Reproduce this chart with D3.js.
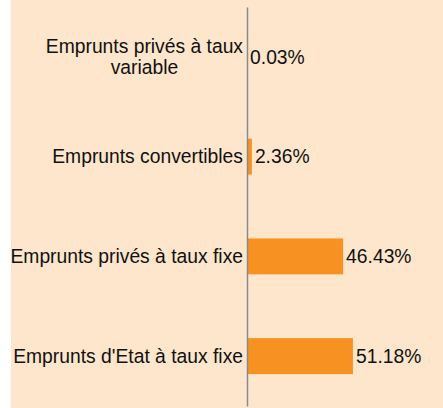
<!DOCTYPE html>
<html>
<head>
<meta charset="utf-8">
<script src="https://cdn.jsdelivr.net/npm/d3@7"></script>
<style>
  html, body { margin: 0; padding: 0; background: #ffffff; }
  svg { display: block; }
</style>
</head>
<body>
<div id="chart"></div>
<script>
const categories = [
  'Emprunts privés à taux variable',
  'Emprunts convertibles',
  'Emprunts privés à taux fixe',
  "Emprunts d'Etat à taux fixe"
];
const shares = [0.03, 2.36, 46.43, 51.18];

document.addEventListener('DOMContentLoaded', () => {
  const width = 443;
  const height = 408;
  const axisX = 247;
  const fontSize = 19.3;

  const svg = d3.select('#chart')
                .append('svg')
                .attr('width', width)
                .attr('height', height)
                .style('font-family', '"Liberation Sans", Arial, sans-serif');

  // peach plot area, white strip on the left
  svg.append('rect')
     .attr('x', 11)
     .attr('y', 0)
     .attr('width', width - 11)
     .attr('height', height)
     .attr('fill', '#fde6cb');

  const xScale = d3.scaleLinear()
                   .domain([0, 100])
                   .range([axisX, axisX + 207]);

  const yScale = d3.scaleBand()
                   .domain(categories)
                   .range([7, 406])
                   .paddingInner(0.64)
                   .paddingOuter(0.32);

  svg.selectAll('.bar')
     .data(categories)
     .enter()
     .append('rect')
     .attr('class', 'bar')
     .attr('x', xScale(0))
     .attr('y', (d) => yScale(d))
     .attr('width', (d, i) => Math.max(xScale(shares[i]) - xScale(0), 0.6))
     .attr('height', yScale.bandwidth())
     .attr('fill', '#f79121');

  // value labels
  svg.selectAll('.value')
     .data(categories)
     .enter()
     .append('text')
     .attr('class', 'value')
     .attr('x', (d, i) => xScale(shares[i]) + 3)
     .attr('y', (d) => yScale(d) + yScale.bandwidth() / 2)
     .attr('dy', '0.35em')
     .attr('font-size', fontSize)
     .attr('fill', '#111')
     .text((d, i) => shares[i].toFixed(2) + '%');

  // category labels, wrapped when too long, lines centred on the first line
  const maxWidth = 236;
  categories.forEach((name) => {
    const cy = yScale(name) + yScale.bandwidth() / 2;
    const probe = svg.append('text').attr('font-size', fontSize);
    const words = name.split(' ');
    const lines = [];
    let line = [];
    words.forEach((w) => {
      line.push(w);
      probe.text(line.join(' '));
      if (probe.node().getComputedTextLength() > maxWidth && line.length > 1) {
        line.pop();
        lines.push(line.join(' '));
        line = [w];
      }
    });
    lines.push(line.join(' '));
    probe.text(lines[0]);
    const firstW = probe.node().getComputedTextLength();
    probe.remove();

    const lineH = 21.5;
    const centre = axisX - 4 - firstW / 2;
    const label = svg.append('text')
                     .attr('font-size', fontSize)
                     .attr('fill', '#111')
                     .attr('text-anchor', 'middle');
    lines.forEach((l, k) => {
      label.append('tspan')
           .attr('x', centre)
           .attr('y', cy + (k - (lines.length - 1) / 2) * lineH)
           .attr('dy', '0.35em')
           .text(l);
    });
  });

  // vertical axis line
  const yAxis = d3.axisLeft(yScale).tickSize(0).tickFormat('');
  svg.append('g')
     .attr('transform', 'translate(' + axisX + ', 0)')
     .call(yAxis)
     .call((g) => g.select('.domain')
                   .attr('stroke', '#8a8a8a')
                   .attr('stroke-width', 1.5));
});
</script>
</body>
</html>
